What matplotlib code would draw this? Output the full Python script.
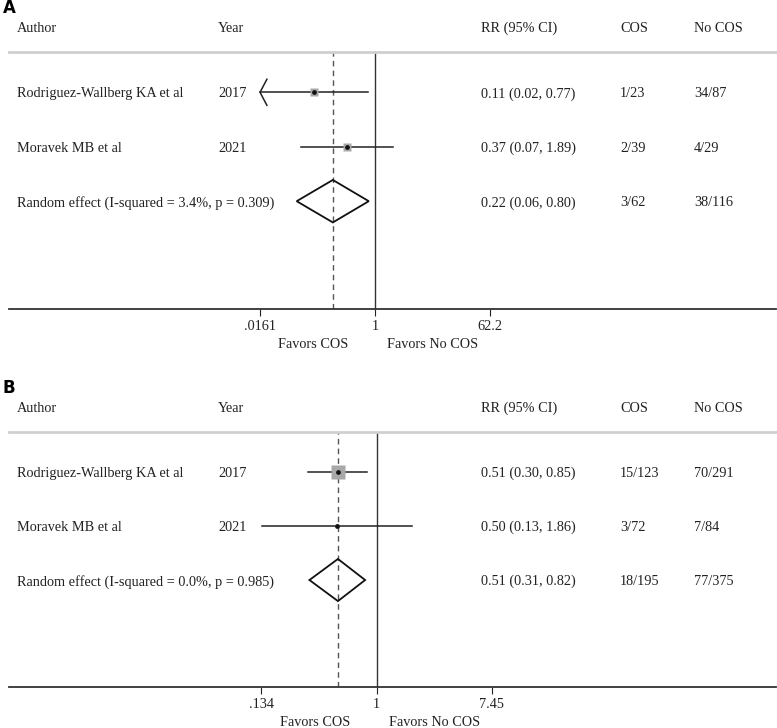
import numpy as np
import matplotlib
matplotlib.use("Agg")
import matplotlib.pyplot as plt
from matplotlib.transforms import blended_transform_factory

plt.rcParams['font.family'] = ['Liberation Serif', 'DejaVu Serif']

# ---- data ----
authors = ["Rodriguez-Wallberg KA et al", "Moravek MB et al"]
years = ["2017", "2021"]
pooled_label_a = "Random effect (I-squared = 3.4%, p = 0.309)"
pooled_label_b = "Random effect (I-squared = 0.0%, p = 0.985)"

# unrounded lower limits estimated so they print as in the table
rr_a = [0.11, 0.37]
lo_a = [0.0154, 0.07]
hi_a = [0.77, 1.89]
pool_a = [0.22, 0.06, 0.80]
cos_a = ["1/23", "2/39", "3/62"]
nocos_a = ["34/87", "4/29", "38/116"]
weights_a = [50.0, 50.0]
ticks_a = [0.0161, 1, 62.2]
ticklabels_a = [".0161", "1", "62.2"]

rr_b = [0.51, 0.50]
lo_b = [0.30, 0.1345]
hi_b = [0.85, 1.86]
pool_b = [0.51, 0.31, 0.82]
cos_b = ["15/123", "3/72", "18/195"]
nocos_b = ["70/291", "7/84", "77/375"]
weights_b = [92.4, 7.6]
ticks_b = [0.134, 1, 7.45]
ticklabels_b = [".134", "1", "7.45"]

W, H = 777, 728
fig = plt.figure(figsize=(W / 100, H / 100), dpi=100)

AX_L, AX_R = 9, 776
FS = 10.3


def fx(px):
    # figure pixel -> axes fraction
    return (px - AX_L) / (AX_R - AX_L)


def draw_panel(top, bottom, center_px, rr, lo, hi, pool, cos, nocos, weights,
               box_scale, ticks, ticklabels, pooled_label, letter):
    ax = fig.add_axes([AX_L / W, 1 - bottom / H, (AX_R - AX_L) / W, (bottom - top) / H])
    ax.set_xscale('log')
    s = 115 / np.log(ticks[-1])
    ax.set_xlim(np.exp((AX_L - center_px) / s), np.exp((AX_R - center_px) / s))
    ax.set_ylim(3.98, -0.74)

    for sp in ['left', 'right']:
        ax.spines[sp].set_visible(False)
    ax.spines['top'].set_color('#cfcfcf')
    ax.spines['top'].set_linewidth(2)
    ax.spines['bottom'].set_color('#333333')
    ax.spines['bottom'].set_linewidth(1.3)
    ax.set_yticks([])
    ax.set_xticks(ticks)
    ax.set_xticklabels(ticklabels)
    ax.minorticks_off()
    ax.tick_params(axis='x', length=5, width=0.8, labelsize=FS, pad=3, colors='#222222')

    xmin = ticks[0]
    ax.axvline(1, color='#333333', lw=1.0)
    ax.axvline(pool[0], color='#555555', lw=1.0, ls=(0, (4, 3)))

    for i in range(len(rr)):
        left = max(lo[i], xmin)
        ax.plot([left, hi[i]], [i, i], color='#222222', lw=1.1)
        if lo[i] < xmin:
            ax.plot([xmin * 1.28, xmin, xmin * 1.28], [i - 0.24, i, i + 0.24],
                    color='#222222', lw=1.1)
        size = box_scale * np.sqrt(weights[i])
        ax.plot(rr[i], i, marker='s', ms=size, color='#a8a8a8', mec='none', zorder=3)
        ax.plot(rr[i], i, marker='o', ms=2.4, color='#111111', zorder=4)

    yp = len(rr)
    ax.fill([pool[1], pool[0], pool[2], pool[0], pool[1]],
            [yp, yp - 0.39, yp, yp + 0.39, yp], facecolor='none',
            edgecolor='#111111', lw=1.3, zorder=3)

    tr = blended_transform_factory(ax.transAxes, ax.transData)
    head_y = -0.74 - 25 / 54
    tkw = dict(transform=tr, fontsize=FS, color='#222222', va='center_baseline',
               clip_on=False)
    ax.text(fx(17), head_y, "Author", **tkw)
    ax.text(fx(218), head_y, "Year", **tkw)
    ax.text(fx(481), head_y, "RR (95% CI)", **tkw)
    ax.text(fx(620), head_y, "COS", **tkw)
    ax.text(fx(694), head_y, "No COS", **tkw)

    for i in range(len(rr)):
        ax.text(fx(17), i, authors[i], **tkw)
        ax.text(fx(218), i, years[i], **tkw)
        ax.text(fx(481), i, f"{rr[i]:.2f} ({lo[i]:.2f}, {hi[i]:.2f})", **tkw)
        ax.text(fx(620), i, cos[i], **tkw)
        ax.text(fx(694), i, nocos[i], **tkw)
    ax.text(fx(17), yp, pooled_label, **tkw)
    ax.text(fx(481), yp, f"{pool[0]:.2f} ({pool[1]:.2f}, {pool[2]:.2f})", **tkw)
    ax.text(fx(620), yp, cos[yp], **tkw)
    ax.text(fx(694), yp, nocos[yp], **tkw)

    ftr = blended_transform_factory(ax.transData, ax.transAxes)
    ax.annotate("Favors COS", xy=(1, 0), xycoords=ftr, xytext=(-19, -24.5),
                textcoords='offset points', ha='right', va='center_baseline',
                fontsize=FS, color='#222222', annotation_clip=False)
    ax.annotate("Favors No COS", xy=(1, 0), xycoords=ftr, xytext=(9, -24.5),
                textcoords='offset points', ha='left', va='center_baseline',
                fontsize=FS, color='#222222', annotation_clip=False)

    fig.text(3 / W, 1 - (top - 44) / H, letter, fontsize=12, fontweight='bold',
             family='DejaVu Sans', va='center', ha='left')
    return ax


draw_panel(52, 309, 375, rr_a, lo_a, hi_a, pool_a, cos_a, nocos_a, weights_a,
           0.75, ticks_a, ticklabels_a, pooled_label_a, "A")
draw_panel(432, 687, 376.5, rr_b, lo_b, hi_b, pool_b, cos_b, nocos_b, weights_b,
           1.05, ticks_b, ticklabels_b, pooled_label_b, "B")

fig.savefig("out.png", dpi=100)
